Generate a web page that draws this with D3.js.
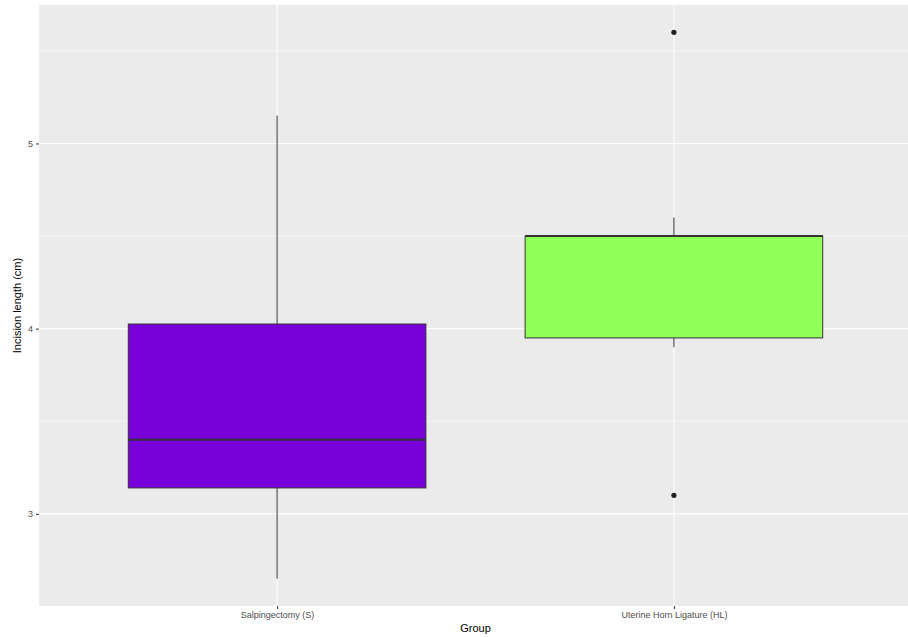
<!DOCTYPE html>
<html>
<head>
<meta charset="utf-8">
<script src="https://cdn.jsdelivr.net/npm/d3@7"></script>
<style>
  html, body { margin: 0; padding: 0; background: #fff; }
  svg { display: block; font-family: "Liberation Sans", Arial, Helvetica, sans-serif; }
</style>
</head>
<body>
<svg id="chart" width="908" height="637"></svg>
<script>
// Box summary statistics per group (incision length, cm)
const groups = ["Salpingectomy (S)", "Uterine Horn Ligature (HL)"];
const whiskerLow = [2.65, 3.9];
const q1 = [3.14, 3.95];
const median = [3.4, 4.5];
const q3 = [4.025, 4.5];
const whiskerHigh = [5.15, 4.6];
const outliers = [[], [5.6, 3.1]];
const fills = ["#7800D9", "#90FF57"];
const yTicks = [3, 4, 5];
const yMinor = [2.5, 3.5, 4.5, 5.5];

const svg = d3.select("#chart");
const panel = { left: 39, right: 912, top: 5, bottom: 606 };

// Continuous y with 5% expansion around the data range
const allVals = whiskerLow.concat(whiskerHigh, outliers.flat());
const lo = d3.min(allVals), hi = d3.max(allVals);
const pad = (hi - lo) * 0.05;
const y = d3.scaleLinear().domain([lo - pad, hi + pad]).range([panel.bottom, panel.top]);

// Discrete x: positions 1..n, padded by 0.6 on each side
const x = d3.scaleLinear().domain([0.4, groups.length + 0.6]).range([panel.left, panel.right]);
const boxHalf = 0.375;

svg.append("rect")
  .attr("x", panel.left).attr("y", panel.top)
  .attr("width", panel.right - panel.left).attr("height", panel.bottom - panel.top)
  .attr("fill", "#EBEBEB");

const grid = svg.append("g");
grid.selectAll("line.minor").data(yMinor).join("line")
  .attr("x1", panel.left).attr("x2", panel.right)
  .attr("y1", d => y(d)).attr("y2", d => y(d))
  .attr("stroke", "#fff").attr("stroke-width", 0.55);
grid.selectAll("line.major").data(yTicks).join("line")
  .attr("x1", panel.left).attr("x2", panel.right)
  .attr("y1", d => y(d)).attr("y2", d => y(d))
  .attr("stroke", "#fff").attr("stroke-width", 1.1);
grid.selectAll("line.vmajor").data(groups).join("line")
  .attr("x1", (d, i) => x(i + 1)).attr("x2", (d, i) => x(i + 1))
  .attr("y1", panel.top).attr("y2", panel.bottom)
  .attr("stroke", "#fff").attr("stroke-width", 1.1);

// Boxes
const boxes = svg.append("g").selectAll("g").data(groups).join("g");
boxes.append("line")
  .attr("x1", (d, i) => x(i + 1)).attr("x2", (d, i) => x(i + 1))
  .attr("y1", (d, i) => y(whiskerHigh[i])).attr("y2", (d, i) => y(q3[i]))
  .attr("stroke", "#333").attr("stroke-width", 1);
boxes.append("line")
  .attr("x1", (d, i) => x(i + 1)).attr("x2", (d, i) => x(i + 1))
  .attr("y1", (d, i) => y(q1[i])).attr("y2", (d, i) => y(whiskerLow[i]))
  .attr("stroke", "#333").attr("stroke-width", 1);
boxes.append("rect")
  .attr("x", (d, i) => x(i + 1 - boxHalf))
  .attr("width", (d, i) => x(i + 1 + boxHalf) - x(i + 1 - boxHalf))
  .attr("y", (d, i) => y(q3[i]))
  .attr("height", (d, i) => y(q1[i]) - y(q3[i]))
  .attr("fill", (d, i) => fills[i])
  .attr("stroke", "#333").attr("stroke-width", 1);
boxes.append("line")
  .attr("x1", (d, i) => x(i + 1 - boxHalf)).attr("x2", (d, i) => x(i + 1 + boxHalf))
  .attr("y1", (d, i) => y(median[i])).attr("y2", (d, i) => y(median[i]))
  .attr("stroke", "#333").attr("stroke-width", 2);
boxes.each(function (d, i) {
  d3.select(this).selectAll("circle").data(outliers[i]).join("circle")
    .attr("cx", x(i + 1)).attr("cy", v => y(v)).attr("r", 2.6)
    .attr("fill", "#222");
});

// Axes
const yAxis = d3.axisLeft(y).tickValues(yTicks).tickSize(3).tickPadding(3).tickFormat(d3.format("d"));
const gy = svg.append("g").attr("transform", `translate(${panel.left},0)`).call(yAxis);
gy.select(".domain").remove();
gy.selectAll(".tick line").attr("stroke", "#333");
gy.selectAll(".tick text").attr("fill", "#4D4D4D").attr("font-size", 9);

const xAxis = d3.axisBottom(x).tickValues(groups.map((g, i) => i + 1)).tickSize(3).tickPadding(3)
  .tickFormat(v => groups[v - 1]);
const gx = svg.append("g").attr("transform", `translate(0,${panel.bottom})`).call(xAxis);
gx.select(".domain").remove();
gx.selectAll(".tick line").attr("stroke", "#333");
gx.selectAll(".tick text").attr("fill", "#4D4D4D").attr("font-size", 9);

svg.append("text")
  .attr("x", (panel.left + 908) / 2 + 2).attr("y", 632)
  .attr("text-anchor", "middle").attr("font-size", 11).attr("fill", "#000")
  .text("Group");
svg.append("text")
  .attr("transform", `translate(21,${(panel.top + panel.bottom) / 2}) rotate(-90)`)
  .attr("text-anchor", "middle").attr("font-size", 11).attr("fill", "#000")
  .text("Incision length (cm)");
</script>
</body>
</html>
